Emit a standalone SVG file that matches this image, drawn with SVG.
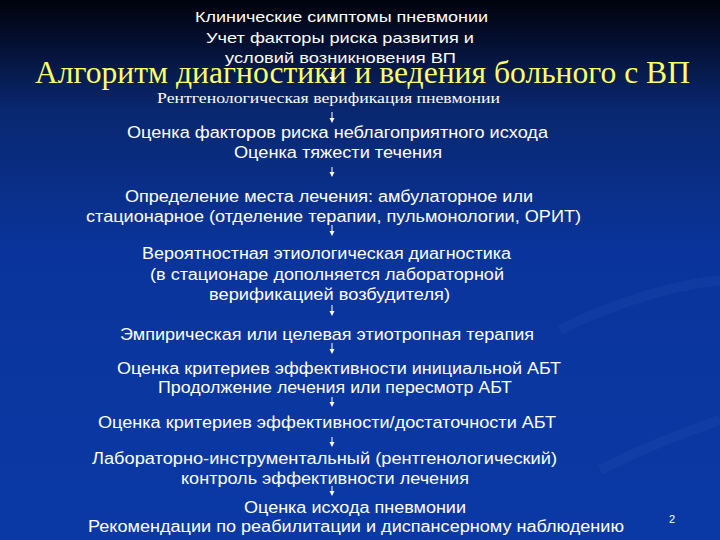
<svg xmlns="http://www.w3.org/2000/svg" width="720" height="540" viewBox="0 0 720 540">
<defs>
<linearGradient id="bg" x1="0" y1="0" x2="0" y2="1">
<stop offset="0" stop-color="#01030d"/>
<stop offset="0.08" stop-color="#041031"/>
<stop offset="0.2" stop-color="#09276f"/>
<stop offset="0.45" stop-color="#0a349a"/>
<stop offset="1" stop-color="#0a39a6"/>
</linearGradient>
<style>
.t{font-family:"Liberation Sans",Arial,sans-serif;font-size:16px;fill:#ffffff;}
.s{font-family:"Liberation Sans",Arial,sans-serif;font-size:15px;fill:#ffffff;}
.r{font-family:"Liberation Serif","Times New Roman",serif;font-size:14px;fill:#ffffff;}
.h{font-family:"Liberation Serif","Times New Roman",serif;font-size:32px;fill:#ffff66;}
.n{font-family:"Liberation Sans",Arial,sans-serif;font-size:11px;fill:#ffffff;}
.c line{stroke:#ffffff;stroke-width:1;}
.c path{fill:#ffffff;}
</style>
</defs>
<rect width="720" height="540" fill="url(#bg)"/>
<g opacity="0.06" fill="none" stroke="#6a9ae8" stroke-width="10">
<path d="M560,330 Q640,290 720,280"/>
<path d="M600,470 Q660,440 720,420"/>
</g>
<g id="title"><text class="h" x="35" y="83" textLength="655" lengthAdjust="spacingAndGlyphs">Алгоритм диагностики и ведения больного с ВП</text></g>
<g id="n1">
<text class="s" x="195" y="22" textLength="293" lengthAdjust="spacingAndGlyphs">Клинические симптомы пневмонии</text>
<text class="s" x="206" y="43" textLength="268" lengthAdjust="spacingAndGlyphs">Учет факторы риска развития и</text>
<text class="s" x="225" y="63" textLength="231" lengthAdjust="spacingAndGlyphs">условий возникновения ВП</text>
</g>
<g id="n2"><text class="r" x="157" y="103" textLength="343" lengthAdjust="spacingAndGlyphs">Рентгенологическая верификация пневмонии</text></g>
<g id="n3">
<text class="t" x="127" y="138" textLength="421" lengthAdjust="spacingAndGlyphs">Оценка факторов риска неблагоприятного исхода</text>
<text class="t" x="234" y="158" textLength="208" lengthAdjust="spacingAndGlyphs">Оценка тяжести течения</text>
</g>
<g id="n4">
<text class="t" x="125" y="202" textLength="408" lengthAdjust="spacingAndGlyphs">Определение места лечения: амбулаторное или</text>
<text class="t" x="86" y="222" textLength="495" lengthAdjust="spacingAndGlyphs">стационарное (отделение терапии, пульмонологии, ОРИТ)</text>
</g>
<g id="n5">
<text class="t" x="142" y="259" textLength="369" lengthAdjust="spacingAndGlyphs">Вероятностная этиологическая диагностика</text>
<text class="t" x="150" y="280" textLength="354" lengthAdjust="spacingAndGlyphs">(в стационаре дополняется лабораторной</text>
<text class="t" x="209" y="300" textLength="241" lengthAdjust="spacingAndGlyphs">верификацией возбудителя)</text>
</g>
<g id="n6"><text class="t" x="120" y="340" textLength="414" lengthAdjust="spacingAndGlyphs">Эмпирическая или целевая этиотропная терапия</text></g>
<g id="n7">
<text class="t" x="117" y="374" textLength="444" lengthAdjust="spacingAndGlyphs">Оценка критериев эффективности инициальной АБТ</text>
<text class="t" x="158" y="393" textLength="354" lengthAdjust="spacingAndGlyphs">Продолжение лечения или пересмотр АБТ</text>
</g>
<g id="n8"><text class="t" x="98" y="428" textLength="458" lengthAdjust="spacingAndGlyphs">Оценка критериев эффективности/достаточности АБТ</text></g>
<g id="n9">
<text class="t" x="92" y="464" textLength="465" lengthAdjust="spacingAndGlyphs">Лабораторно-инструментальный (рентгенологический)</text>
<text class="t" x="181" y="484" textLength="288" lengthAdjust="spacingAndGlyphs">контроль эффективности лечения</text>
</g>
<g id="n10">
<text class="t" x="244" y="513" textLength="222" lengthAdjust="spacingAndGlyphs">Оценка исхода пневмонии</text>
<text class="t" x="88" y="532" textLength="536" lengthAdjust="spacingAndGlyphs">Рекомендации по реабилитации и диспансерному наблюдению</text>
</g>
<g id="page"><text class="n" x="669" y="523">2</text></g>
<g id="connectors" class="c">
<line x1="332" y1="72" x2="332" y2="78"/><path d="M329.5,77 L334.5,77 L332,82 Z"/>
<line x1="332" y1="112" x2="332" y2="119"/><path d="M329.5,118 L334.5,118 L332,123 Z"/>
<line x1="332" y1="167" x2="332" y2="173"/><path d="M329.5,172 L334.5,172 L332,177 Z"/>
<line x1="332" y1="225" x2="332" y2="232"/><path d="M329.5,231 L334.5,231 L332,236 Z"/>
<line x1="332" y1="305" x2="332" y2="312"/><path d="M329.5,311 L334.5,311 L332,316 Z"/>
<line x1="332" y1="343" x2="332" y2="350"/><path d="M329.5,349 L334.5,349 L332,354 Z"/>
<line x1="332" y1="397" x2="332" y2="403"/><path d="M329.5,402 L334.5,402 L332,407 Z"/>
<line x1="332" y1="437" x2="332" y2="443"/><path d="M329.5,442 L334.5,442 L332,447 Z"/>
<line x1="332" y1="486" x2="332" y2="492"/><path d="M329.5,491 L334.5,491 L332,496 Z"/>
</g>
</svg>
